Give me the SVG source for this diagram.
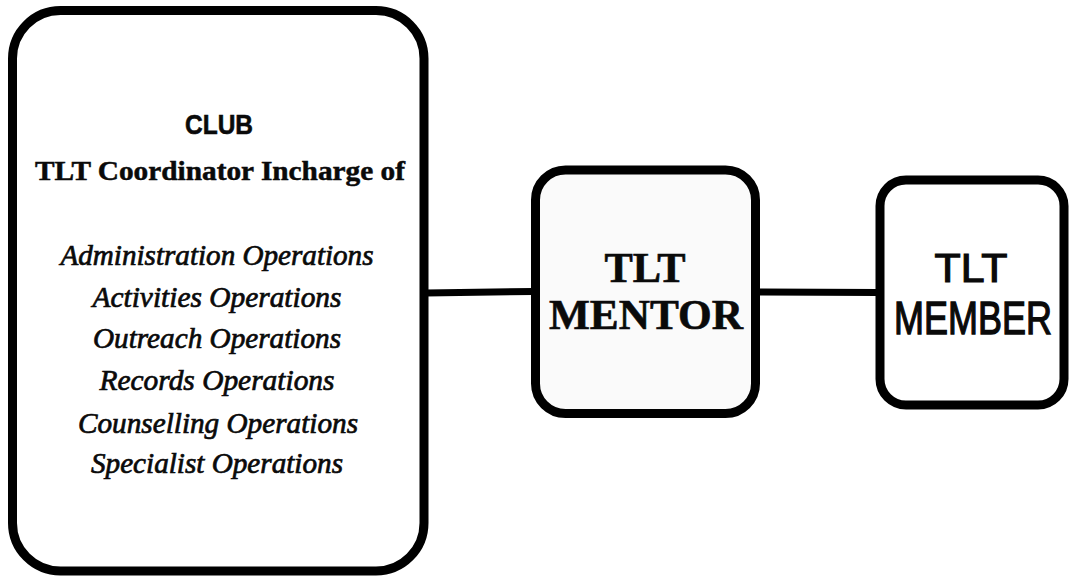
<svg xmlns="http://www.w3.org/2000/svg" width="1069" height="580" viewBox="0 0 1069 580">
<style>
.box{fill:#ffffff;stroke:#000;stroke-width:9}
.conn{stroke:#000;stroke-width:7;fill:none}
.serif{font-family:"Liberation Serif","Times New Roman",serif;fill:#0a0a0a;text-anchor:middle}
.sans{font-family:"Liberation Sans",Arial,sans-serif;fill:#0a0a0a;text-anchor:middle}
.it{font-style:italic;font-size:29px;stroke:#0a0a0a;stroke-width:0.7}
</style>
<rect width="1069" height="580" fill="#ffffff"/>
<g id="connectors">
<line class="conn" x1="426" y1="293" x2="533" y2="291.5"/>
<line class="conn" x1="758" y1="292" x2="878" y2="292.5"/>
</g>
<g id="club">
<rect class="box" x="12.5" y="10.5" width="411.5" height="560.5" rx="48"/>
<text class="sans" x="219" y="134" font-size="28" font-weight="700" textLength="68" lengthAdjust="spacingAndGlyphs" style="stroke:#0a0a0a;stroke-width:0.6">CLUB</text>
<text class="serif" x="220" y="180" font-size="28" font-weight="700" textLength="370" lengthAdjust="spacingAndGlyphs" style="stroke:#0a0a0a;stroke-width:0.5">TLT Coordinator Incharge of</text>
<text class="serif it" x="217" y="265" textLength="313" lengthAdjust="spacingAndGlyphs">Administration Operations</text>
<text class="serif it" x="217" y="307" textLength="249" lengthAdjust="spacingAndGlyphs">Activities Operations</text>
<text class="serif it" x="217" y="348" textLength="248" lengthAdjust="spacingAndGlyphs">Outreach Operations</text>
<text class="serif it" x="217" y="390" textLength="235" lengthAdjust="spacingAndGlyphs">Records Operations</text>
<text class="serif it" x="218" y="433" textLength="280" lengthAdjust="spacingAndGlyphs">Counselling Operations</text>
<text class="serif it" x="217" y="473" textLength="252" lengthAdjust="spacingAndGlyphs">Specialist Operations</text>
</g>
<g id="mentor">
<rect class="box" x="535.5" y="170" width="220" height="243.5" rx="30" style="fill:#fafafa"/>
<text class="serif" x="645" y="282" font-size="42" font-weight="700" textLength="81" lengthAdjust="spacingAndGlyphs" style="stroke:#0a0a0a;stroke-width:0.6">TLT</text>
<text class="serif" x="646" y="329" font-size="42" font-weight="700" textLength="194" lengthAdjust="spacingAndGlyphs" style="stroke:#0a0a0a;stroke-width:0.6">MENTOR</text>
</g>
<g id="member">
<rect class="box" x="880" y="180" width="184" height="225" rx="26"/>
<text class="sans" x="971" y="282" font-size="41" textLength="73" lengthAdjust="spacingAndGlyphs" style="stroke:#0a0a0a;stroke-width:1.2">TLT</text>
<text class="sans" transform="translate(973,334) scale(1,1.2)" x="0" y="0" font-size="38" textLength="158" lengthAdjust="spacingAndGlyphs" style="stroke:#0a0a0a;stroke-width:1.1">MEMBER</text>
</g>
</svg>
